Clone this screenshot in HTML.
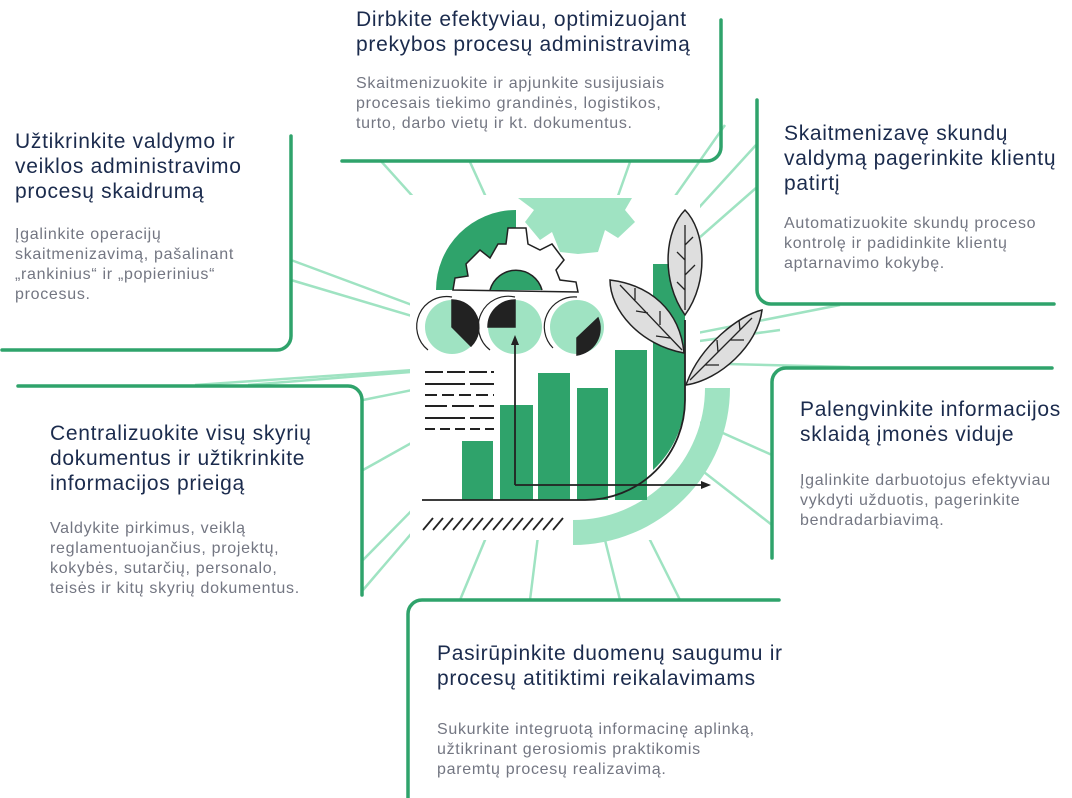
<!DOCTYPE html>
<html><head><meta charset="utf-8"><style>
html,body{margin:0;padding:0;background:#fff}
#c{position:relative;width:1072px;height:798px;overflow:hidden;font-family:"Liberation Sans",sans-serif}
.t{position:absolute;color:#1b2b4d;font-size:21px;line-height:25px;letter-spacing:0.7px;white-space:nowrap}
.b{position:absolute;color:#737682;font-size:16px;line-height:20px;letter-spacing:0.7px;white-space:nowrap}
svg{position:absolute;left:0;top:0}
</style></head><body><div id="c">
<svg width="1072" height="798" viewBox="0 0 1072 798">
<g stroke="#9fe3c2" stroke-width="2.5" fill="none">
<line x1="560" y1="360" x2="380" y2="160"/><line x1="560" y1="360" x2="291" y2="260"/>
<line x1="560" y1="360" x2="291" y2="280"/><line x1="560" y1="360" x2="195" y2="385"/>
<line x1="560" y1="360" x2="248" y2="385"/><line x1="560" y1="360" x2="363" y2="400"/>
<line x1="560" y1="360" x2="363" y2="470"/><line x1="560" y1="360" x2="363" y2="560"/>
<line x1="560" y1="360" x2="363" y2="590"/><line x1="560" y1="360" x2="460" y2="600"/>
<line x1="560" y1="360" x2="530" y2="600"/><line x1="560" y1="360" x2="620" y2="600"/>
<line x1="560" y1="360" x2="680" y2="600"/><line x1="560" y1="360" x2="772" y2="455"/>
<line x1="560" y1="360" x2="772" y2="525"/><line x1="560" y1="360" x2="850" y2="367"/>
<line x1="560" y1="360" x2="840" y2="305"/><line x1="560" y1="360" x2="756" y2="188"/>
<line x1="560" y1="360" x2="756" y2="145"/><line x1="560" y1="360" x2="725" y2="125"/>
<line x1="560" y1="360" x2="630" y2="162"/><line x1="560" y1="360" x2="470" y2="162"/>
<line x1="560" y1="360" x2="780" y2="330"/>
</g>
<rect x="410" y="195" width="290" height="345" fill="#fff"/>
<path d="M436,290 A80,80 0 0 1 516,210 L516,290 Z" fill="#2fa36b"/>
<path d="M518,198 L632,198 L625,210 L635,222 L618,238 L605,230 L598,252 L578,254 L560,252 L552,232 L540,240 L525,222 L534,210 Z" fill="#9fe3c2"/>
<path d="M453,290 L455,278 L468,276 L466,264 L480,250 L490,258 L498,244 L506,244 L508,228 L526,228 L528,244 L540,250 L552,244 L564,260 L556,270 L560,280 L576,282 L578,292 Z" fill="#fff" stroke="#222" stroke-width="1.5"/>
<path d="M490,290 A27,27 0 0 1 542,290" fill="#2fa36b" stroke="#222" stroke-width="1.5"/>
<g stroke="#222" stroke-width="1.5">
<circle cx="452" cy="327" r="27" fill="#9fe3c2" stroke="none"/><path d="M452,300 A27,27 0 0 1 471,346 L452,327Z" fill="#222"/>
<circle cx="515" cy="327" r="27" fill="#9fe3c2" stroke="none"/><path d="M515,327 L488,327 A27,27 0 0 1 515,300Z" fill="#222"/>
<circle cx="577" cy="327" r="27" fill="#9fe3c2" stroke="none"/><path d="M577,355 L577,338 L598,318 A27,27 0 0 1 577,355Z" fill="#222"/>
<path d="M428,350 A30,30 0 0 1 452,297" fill="none" stroke-width="1.2"/>
<path d="M490,350 A30,30 0 0 1 515,297" fill="none" stroke-width="1.2"/>
<path d="M553,348 A30,30 0 0 1 577,297" fill="none" stroke-width="1.2"/>
</g>
<g stroke="#222" stroke-width="2"><line x1="425" y1="372" x2="494" y2="372" stroke-dasharray="18,4"/><line x1="425" y1="384" x2="494" y2="384" stroke-dasharray="40,5"/><line x1="425" y1="395" x2="494" y2="395" stroke-dasharray="12,5"/><line x1="425" y1="406" x2="494" y2="406" stroke-dasharray="22,5"/><line x1="425" y1="418" x2="494" y2="418" stroke-dasharray="40,5"/><line x1="425" y1="429" x2="494" y2="429" stroke-dasharray="10,5"/></g>
<path d="M573,545 L573,520 A132,132 0 0 0 705,388 L730,388 A157,157 0 0 1 573,545Z" fill="#9fe3c2"/>
<g fill="#2fa36b"><rect x="462" y="441" width="31" height="59"/><rect x="500" y="405" width="33" height="95"/><rect x="538" y="373" width="32" height="127"/><rect x="577" y="388" width="31" height="112"/><rect x="615" y="350" width="32" height="150"/><path d="M653,264 L685,264 L685,400 A100,100 0 0 1 653,470Z"/></g>
<path d="M422,500 L585,500 A100,100 0 0 0 685,400 L685,320" fill="none" stroke="#222" stroke-width="1.8"/>
<path d="M515,485 L515,342 M515,485 L703,485" fill="none" stroke="#222" stroke-width="1.8"/>
<path d="M515,335 L511,345 L519,345Z M711,485 L701,481 L701,489Z" fill="#222"/>
<g stroke="#222" stroke-width="1.8"><path d="M423,530 l10,-12 M433,530 l10,-12 M443,530 l10,-12 M453,530 l10,-12 M463,530 l10,-12 M473,530 l10,-12 M483,530 l10,-12 M493,530 l10,-12 M503,530 l10,-12 M513,530 l10,-12 M523,530 l10,-12 M533,530 l10,-12 M543,530 l10,-12 M553,530 l10,-12"/></g>
<g fill="#dedede" stroke="#222" stroke-width="1.5">
<path d="M685,315 C660,280 665,230 685,210 C705,230 710,280 685,315Z"/>
<path d="M684,353 C640,345 610,310 610,280 C650,285 680,310 684,353Z"/>
<path d="M686,385 C700,345 740,315 762,310 C758,345 720,380 686,385Z"/>
</g>
<g stroke="#222" stroke-width="1.3" fill="none"><path d="M685,225 V310 M685,245 l8,-8 M685,260 l-8,-8 M685,275 l10,-10 M685,290 l-8,-8"/><path d="M620,285 L682,350 M635,300 l0,-12 M648,313 l-12,-2 M660,325 l0,-14 M670,338 l-14,-2"/><path d="M690,380 L752,318 M705,365 l14,0 M718,352 l-1,-12 M730,340 l14,0 M740,330 l-1,-10"/></g>
<g stroke="#2fa36b" stroke-width="3.5" fill="none" stroke-linecap="round">
<path d="M342,161 L707,161 A14,14 0 0 0 721,147 L721,20"/>
<path d="M2,350 L277,350 A14,14 0 0 0 291,336 L291,136"/>
<path d="M757,100 L757,290 A14,14 0 0 0 771,304 L1054,304"/>
<path d="M18,386 L348,386 A14,14 0 0 1 362,400 L362,595"/>
<path d="M772,558 L772,382 A14,14 0 0 1 786,368 L1052,368"/>
<path d="M408,798 L408,614 A14,14 0 0 1 422,600 L779,600"/>
</g>
</svg>
<div class="t" style="left:356px;top:7px">Dirbkite efektyviau, optimizuojant<br>prekybos procesų administravimą</div>
<div class="b" style="left:356px;top:74px">Skaitmenizuokite ir apjunkite susijusiais<br>procesais tiekimo grandinės, logistikos,<br>turto, darbo vietų ir kt. dokumentus.</div>
<div class="t" style="left:15px;top:129px">Užtikrinkite valdymo ir<br>veiklos administravimo<br>procesų skaidrumą</div>
<div class="b" style="left:15px;top:225px">Įgalinkite operacijų<br>skaitmenizavimą, pašalinant<br>„rankinius“ ir „popierinius“<br>procesus.</div>
<div class="t" style="left:784px;top:121px">Skaitmenizavę skundų<br>valdymą pagerinkite klientų<br>patirtį</div>
<div class="b" style="left:784px;top:214px">Automatizuokite skundų proceso<br>kontrolę ir padidinkite klientų<br>aptarnavimo kokybę.</div>
<div class="t" style="left:50px;top:421px">Centralizuokite visų skyrių<br>dokumentus ir užtikrinkite<br>informacijos prieigą</div>
<div class="b" style="left:50px;top:519px">Valdykite pirkimus, veiklą<br>reglamentuojančius, projektų,<br>kokybės, sutarčių, personalo,<br>teisės ir kitų skyrių dokumentus.</div>
<div class="t" style="left:800px;top:397px">Palengvinkite informacijos<br>sklaidą įmonės viduje</div>
<div class="b" style="left:800px;top:471px">Įgalinkite darbuotojus efektyviau<br>vykdyti užduotis, pagerinkite<br>bendradarbiavimą.</div>
<div class="t" style="left:437px;top:641px">Pasirūpinkite duomenų saugumu ir<br>procesų atitiktimi reikalavimams</div>
<div class="b" style="left:437px;top:720px">Sukurkite integruotą informacinę aplinką,<br>užtikrinant gerosiomis praktikomis<br>paremtų procesų realizavimą.</div>
</div></body></html>
